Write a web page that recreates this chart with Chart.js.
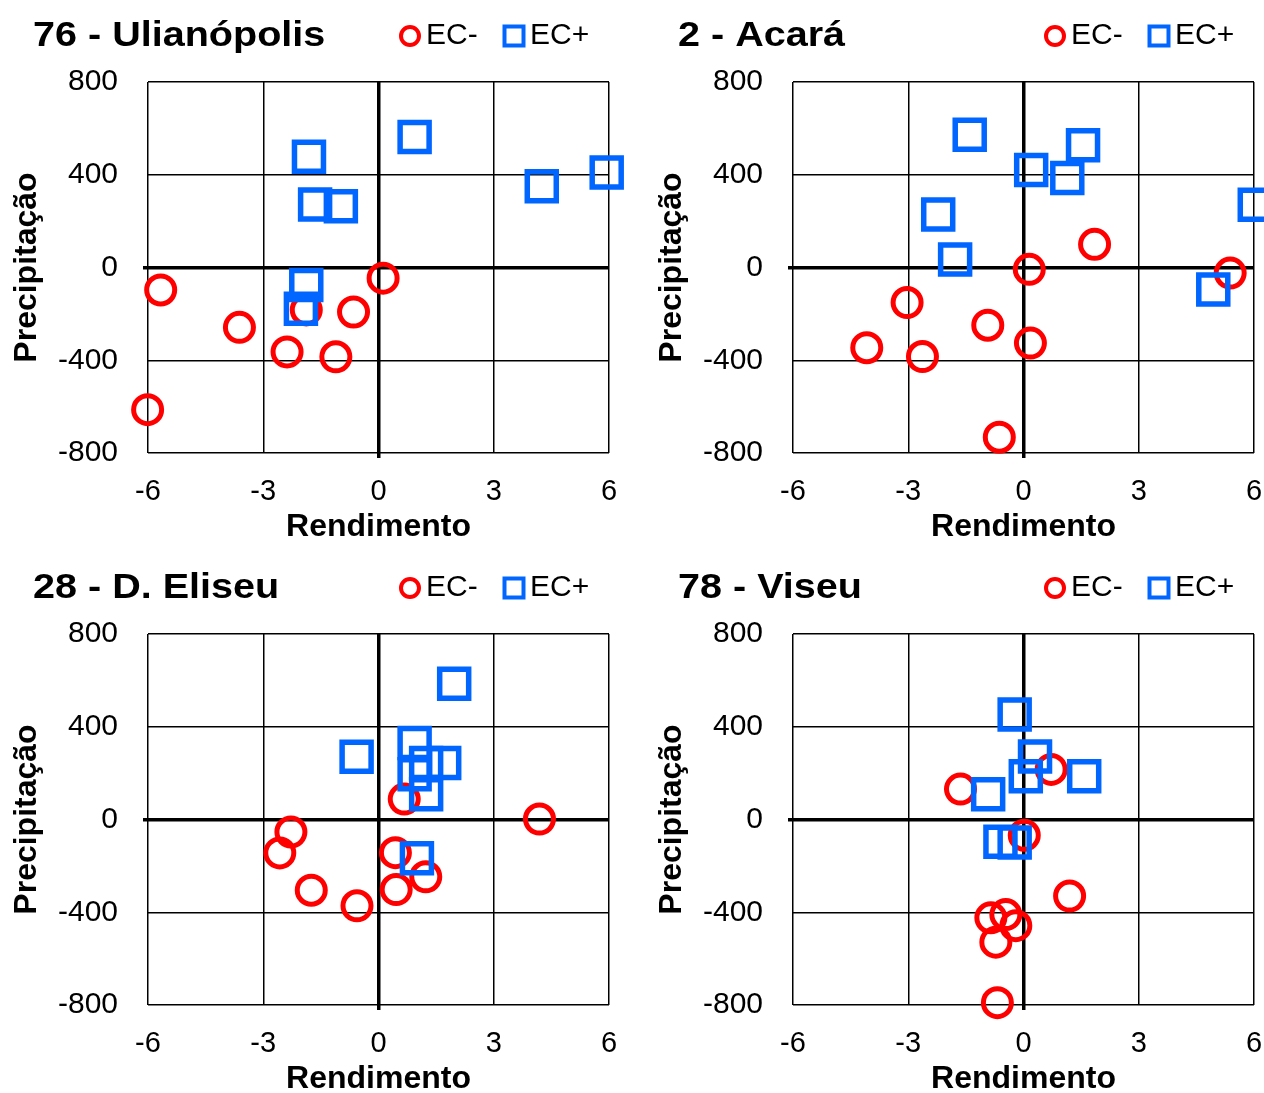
<!DOCTYPE html>
<html>
<head>
<meta charset="utf-8">
<title>Rendimento x Precipitação</title>
<script src="https://cdn.jsdelivr.net/npm/chart.js@4/dist/chart.umd.min.js"></script>
<style>
  html, body { margin: 0; padding: 0; background: #fff; overflow: hidden; width: 1264px; height: 1093px; }
  .panel { position: absolute; }
</style>
</head>
<body>
<canvas id="p0" class="panel" width="645" height="552" style="left:0px;top:0px"></canvas>
<canvas id="p1" class="panel" width="645" height="552" style="left:645px;top:0px"></canvas>
<canvas id="p2" class="panel" width="645" height="552" style="left:0px;top:552px"></canvas>
<canvas id="p3" class="panel" width="645" height="552" style="left:645px;top:552px"></canvas>
<script>
// Axis ticks and labels
const xTicks = [-6, -3, 0, 3, 6];
const yTicks = [-800, -400, 0, 400, 800];
const xAxisTitle = 'Rendimento';
const yAxisTitle = 'Precipitação';
const seriesNames = ['EC-', 'EC+'];
const panelTitles = ['76 - Ulianópolis', '2 - Acará', '28 - D. Eliseu', '78 - Viseu'];

// 76 - Ulianópolis
const ulianopolisNegX = [-5.67, -3.62, -2.38, -1.88, -0.65, -1.11, 0.12, -6.01];
const ulianopolisNegY = [-97, -258, -364, -183, -192, -385, -46, -613];
const ulianopolisPosX = [-1.81, 0.94, -1.65, -0.98, 4.25, 5.94, -1.88, -2.02];
const ulianopolisPosY = [478, 563, 272, 264, 350, 410, -75, -178];

// 2 - Acará
const acaraNegX = [-3.03, -4.08, -2.63, -0.93, 0.15, 0.18, 1.85, 5.38, -0.63];
const acaraNegY = [-151, -346, -384, -249, -8, -326, 100, -24, -732];
const acaraPosX = [-1.40, -2.22, -1.78, 0.20, 1.14, 1.55, 4.94, 6.02];
const acaraPosY = [573, 229, 34, 420, 386, 527, -95, 271];

// 28 - D. Eliseu
const eliseuNegX = [-2.28, -2.57, -1.75, -0.56, 0.44, 0.46, 1.23, 0.67, 4.19];
const eliseuNegY = [-54, -144, -305, -372, -143, -302, -247, 88, 2];
const eliseuPosX = [-0.57, 0.94, 0.94, 1.24, 1.71, 1.24, 1.97, 1.00];
const eliseuPosY = [271, 330, 195, 244, 244, 109, 585, -167];

// 78 - Viseu
const viseuNegX = [-1.64, 0.72, 0.02, 1.20, -0.85, -0.46, -0.20, -0.72, -0.68];
const viseuNegY = [131, 216, -68, -330, -424, -410, -458, -529, -790];
const viseuPosX = [-0.23, 0.30, 0.06, 1.58, -0.92, -0.60, -0.23];
const viseuPosY = [453, 272, 187, 187, 109, -96, -99];

const panels = [
  { negX: ulianopolisNegX, negY: ulianopolisNegY, posX: ulianopolisPosX, posY: ulianopolisPosY },
  { negX: acaraNegX, negY: acaraNegY, posX: acaraPosX, posY: acaraPosY },
  { negX: eliseuNegX, negY: eliseuNegY, posX: eliseuPosX, posY: eliseuPosY },
  { negX: viseuNegX, negY: viseuNegY, posX: viseuPosX, posY: viseuPosY }
];

const FAMILY = '"Liberation Sans", Arial, Helvetica, sans-serif';
const RED = '#FF0000';
const BLUE = '#0066FF';

function toPoints(xs, ys) {
  return xs.map((x, i) => ({ x: x, y: ys[i] }));
}

// Panel heading and legend drawn on the same row, above the plot
const panelHeader = {
  id: 'panelHeader',
  afterDraw(chart, args, opts) {
    const ctx = chart.ctx;
    ctx.save();
    ctx.fillStyle = '#000';
    ctx.textAlign = 'left';
    ctx.textBaseline = 'alphabetic';
    ctx.font = 'bold 35px ' + FAMILY;
    // heading is set slightly wide
    ctx.save();
    ctx.translate(33, 46);
    ctx.scale(1.13, 1);
    ctx.fillText(opts.title, 0, 0);
    ctx.restore();

    const slots = [410, 514];
    ctx.font = '30px ' + FAMILY;
    chart.data.datasets.forEach((ds, i) => {
      const cx = slots[i], cy = 36;
      ctx.strokeStyle = ds.pointBorderColor;
      ctx.lineWidth = 4;
      ctx.beginPath();
      if (ds.pointStyle === 'circle') {
        ctx.arc(cx, cy, 9, 0, Math.PI * 2);
      } else {
        ctx.rect(cx - 9.5, cy - 9.5, 19, 19);
      }
      ctx.stroke();
      ctx.fillStyle = '#000';
      ctx.fillText(ds.label, cx + 16, 44);
    });
    ctx.restore();
  }
};

const isZero = c => c.tick && c.tick.value === 0;

function makeChart(id, panel, title) {
  return new Chart(document.getElementById(id), {
    type: 'scatter',
    data: {
      datasets: [
        {
          label: seriesNames[0],
          data: toPoints(panel.negX, panel.negY),
          pointStyle: 'circle',
          pointRadius: 14,
          pointBorderWidth: 5,
          pointBorderColor: RED,
          pointBackgroundColor: 'rgba(0,0,0,0)',
          order: 1,
          clip: false
        },
        {
          label: seriesNames[1],
          data: toPoints(panel.posX, panel.posY),
          pointStyle: 'rect',
          pointRadius: 20.5,
          pointBorderWidth: 5.5,
          pointBorderColor: BLUE,
          pointBackgroundColor: 'rgba(0,0,0,0)',
          order: 0,
          clip: false
        }
      ]
    },
    options: {
      responsive: false,
      animation: false,
      events: [],
      layout: { padding: { top: 82, right: 36, bottom: 0, left: 0 } },
      plugins: {
        legend: { display: false },
        tooltip: { enabled: false },
        title: { display: false },
        panelHeader: { title: title }
      },
      scales: {
        x: {
          type: 'linear',
          min: xTicks[0],
          max: xTicks[xTicks.length - 1],
          afterBuildTicks: s => { s.ticks = xTicks.map(v => ({ value: v })); },
          afterFit: s => { s.height = 99; },
          border: { display: false },
          grid: {
            color: '#000',
            lineWidth: c => isZero(c) ? 3.5 : 1.5,
            drawTicks: true,
            tickLength: 5,
            tickWidth: 3.5,
            tickColor: c => isZero(c) ? '#000' : 'rgba(0,0,0,0)'
          },
          ticks: {
            color: '#000',
            font: { size: 29, family: FAMILY },
            padding: 17,
            maxRotation: 0,
            autoSkip: false
          },
          title: {
            display: true,
            text: xAxisTitle,
            color: '#000',
            font: { size: 32, weight: 'bold', family: FAMILY },
            padding: { top: 0, bottom: 6 }
          }
        },
        y: {
          type: 'linear',
          min: yTicks[0],
          max: yTicks[yTicks.length - 1],
          afterBuildTicks: s => { s.ticks = yTicks.map(v => ({ value: v })); },
          afterFit: s => { s.width = 148; },
          border: { display: false },
          grid: {
            color: '#000',
            lineWidth: c => isZero(c) ? 3.5 : 1.5,
            drawTicks: true,
            tickLength: 5,
            tickWidth: 3.5,
            tickColor: c => isZero(c) ? '#000' : 'rgba(0,0,0,0)'
          },
          ticks: {
            color: '#000',
            font: { size: 30, family: FAMILY },
            padding: 25,
            autoSkip: false
          },
          title: {
            display: true,
            text: yAxisTitle,
            color: '#000',
            font: { size: 32, weight: 'bold', family: FAMILY },
            padding: { top: 8, bottom: 0 }
          }
        }
      }
    },
    plugins: [panelHeader]
  });
}

panels.forEach((p, i) => makeChart('p' + i, p, panelTitles[i]));
</script>
</body>
</html>
